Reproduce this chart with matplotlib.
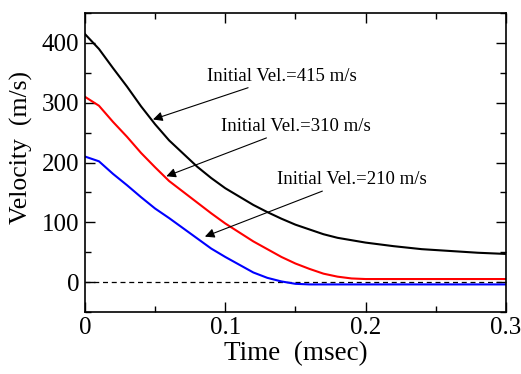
import matplotlib
matplotlib.use("Agg")
import matplotlib.pyplot as plt
from matplotlib.ticker import MultipleLocator

plt.rcParams['font.family'] = ['Liberation Serif', 'DejaVu Serif']

# Time in msec
time = [0.0, 0.01, 0.02, 0.03, 0.04, 0.05, 0.06, 0.07, 0.08, 0.09, 0.10,
        0.11, 0.12, 0.13, 0.14, 0.15, 0.16, 0.17, 0.18, 0.19, 0.20,
        0.22, 0.24, 0.26, 0.28, 0.30]

# Velocity (m/s) for each initial velocity
vel_415 = [415, 390, 358, 327, 294, 264, 237, 215, 193, 174, 157,
           143, 129, 117, 106, 96, 88, 80, 74, 70, 66,
           60, 55, 52, 49, 47]
vel_310 = [310, 295, 268, 243, 216, 192, 169, 151, 133, 115, 98,
           83, 68, 55, 42, 31, 22, 14, 9, 6, 5,
           5, 5, 5, 5, 5]
vel_210 = [210, 202, 181, 162, 142, 123, 107, 90, 73, 56, 42,
           29, 16, 7, 1, -3, -4, -4, -4, -4, -4,
           -4, -4, -4, -4, -4]

labels = ["Initial Vel.=415 m/s", "Initial Vel.=310 m/s", "Initial Vel.=210 m/s"]
xticks = [0, 0.1, 0.2, 0.3]
xtick_labels = ['0', '0.1', '0.2', '0.3']
yticks = [0, 100, 200, 300, 400]
ytick_labels = ['0', '100', '200', '300', '400']

fig = plt.figure(figsize=(5.21, 3.74), dpi=100)
ax = fig.add_axes([0.163, 0.166, 0.808, 0.799])

ax.axhline(0, color='black', lw=0.9, ls=(0, (4, 3)))
ax.plot(time, vel_415, color='black', lw=1.5)
ax.plot(time, vel_310, color='red', lw=1.5)
ax.plot(time, vel_210, color='blue', lw=1.5)

arrow = dict(arrowstyle='-|>', color='black', lw=0.8, mutation_scale=14,
             shrinkA=0, shrinkB=0)
ax.annotate(labels[0], xy=(0.0485, 272), xytext=(0.087, 344),
            fontsize=13.5, va='center', ha='left', arrowprops=arrow)
ax.annotate(labels[1], xy=(0.058, 177), xytext=(0.097, 260),
            fontsize=13.5, va='center', ha='left', arrowprops=arrow)
ax.annotate(labels[2], xy=(0.0855, 76), xytext=(0.1366, 171),
            fontsize=13.5, va='center', ha='left', arrowprops=arrow)

ax.set_xlim(0, 0.3)
ax.set_ylim(-50, 450)
ax.xaxis.set_minor_locator(MultipleLocator(0.05))
ax.yaxis.set_minor_locator(MultipleLocator(50))
ax.set_xticks(xticks)
ax.set_xticklabels(xtick_labels, fontsize=18)
ax.set_yticks(yticks)
ax.set_yticklabels(ytick_labels, fontsize=18)

ax.tick_params(which='both', direction='in', top=True, right=True, width=1.0)
ax.tick_params(which='major', length=7, pad=4)
ax.tick_params(which='minor', length=4)
for s in ax.spines.values():
    s.set_linewidth(1.2)

ax.set_xlabel("Time  (msec)", fontsize=19.5, labelpad=1)
ax.set_ylabel("Velocity  (m/s)", fontsize=18.5)
ax.yaxis.set_label_coords(-0.124, 0.55)

fig.savefig("out.png", dpi=100)
